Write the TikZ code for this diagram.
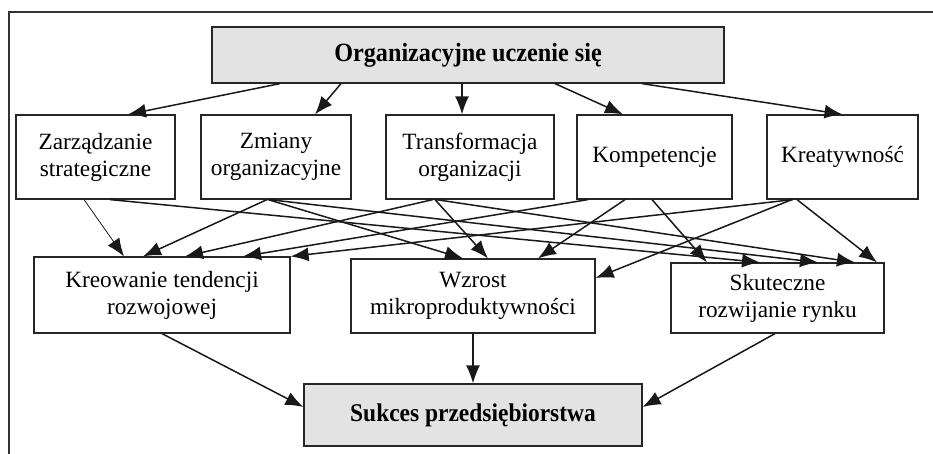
\documentclass[tikz,border=0pt]{standalone}
\usepackage{fontspec}
\setmainfont{Liberation Serif}
\newfontfamily\bfcond[FakeStretch=0.92]{Liberation Serif Bold}
\usetikzlibrary{arrows.meta}
\begin{document}
\begin{tikzpicture}[x=1pt,y=-1pt,
  box/.style={draw=black!85,line width=1.2pt,rectangle,inner sep=0pt,align=center,
    font=\fontsize{23.3}{27}\selectfont},
  gbox/.style={box,fill=black!11,font=\bfcond\fontsize{26.3}{30}\selectfont},
  sbox/.style={box,fill=black!11,font=\bfcond\fontsize{25.5}{30}\selectfont},
  arr/.style={line width=1.5pt,draw=black!90,-{Latex[length=18pt,width=14pt]}},
  thinarr/.style={arr,line width=0.8pt}]
\useasboundingbox (0,0) rectangle (933,454);
\draw[line width=1.1pt,draw=black!80] (9,454) -- (9,12) -- (933,12);

% top
\node[gbox,minimum width=512pt,minimum height=56pt] (top) at (468,55) {Organizacyjne uczenie się};

% row 2
\node[box,minimum width=159pt,minimum height=84pt] (zarz) at (95.5,157) {Zarządzanie\\strategiczne};
\node[box,minimum width=150pt,minimum height=84pt] (zmiany) at (276,157) {Zmiany\\organizacyjne};
\node[box,minimum width=168pt,minimum height=84pt] (trans) at (470,157) {Transformacja\\organizacji};
\node[box,minimum width=155pt,minimum height=84pt] (komp) at (654.5,157) {Kompetencje};
\node[box,minimum width=151pt,minimum height=84pt] (kreat) at (842.5,157) {Kreatywność};

% row 3
\node[box,minimum width=256pt,minimum height=76pt] (kreow) at (162,295) {Kreowanie tendencji\\rozwojowej};
\node[box,minimum width=244pt,minimum height=74pt] (wzrost) at (473,296) {Wzrost\\mikroproduktywności};
\node[box,minimum width=213pt,minimum height=70pt] (skut) at (777.5,298) {Skuteczne\\rozwijanie rynku};

% bottom
\node[sbox,minimum width=338pt,minimum height=62pt] (sukces) at (473,415) {Sukces przedsiębiorstwa};

% top -> row 2
\draw[arr] ([xshift=-188pt]top.south) -- ([xshift=32.5pt]zarz.north);
\draw[arr] ([xshift=-127pt]top.south) -- ([xshift=39pt]zmiany.north);
\draw[arr] ([xshift=-6pt]top.south) -- ([xshift=-8pt]trans.north);
\draw[arr] ([xshift=87pt]top.south) -- ([xshift=-31.5pt]komp.north);
\draw[arr] ([xshift=174pt]top.south) -- (kreat.north);

% row 2 -> row 3
\draw[thinarr] ([xshift=-11.5pt]zarz.south) -- ([xshift=-38pt]kreow.north);
\draw[arr] ([xshift=14.5pt]zarz.south) -- ([xshift=-17.5pt]skut.north);
\draw[arr] ([xshift=-9pt]zmiany.south) -- ([xshift=-19pt]kreow.north);
\draw[arr] ([xshift=-8pt]zmiany.south) -- ([xshift=-10pt]wzrost.north);
\draw[arr] ([xshift=-7pt]zmiany.south) -- ([xshift=40.5pt]skut.north);
\draw[arr] ([xshift=-37pt]trans.south) -- ([xshift=23pt]kreow.north);
\draw[arr] ([xshift=-35pt]trans.south) -- ([xshift=15pt]wzrost.north);
\draw[arr] ([xshift=-34pt]trans.south) -- ([xshift=77.5pt]skut.north);
\draw[arr] ([xshift=-66.5pt]komp.south) -- ([xshift=81pt]kreow.north);
\draw[arr] ([xshift=-29.5pt]komp.south) -- ([xshift=65pt]wzrost.north);
\draw[arr] ([xshift=-2.5pt]komp.south) -- ([xshift=-70.5pt]skut.north);
\draw[arr] ([xshift=-49.5pt]kreat.south) -- (kreow.north east);
\draw[arr] ([xshift=-50.5pt]kreat.south) -- ([yshift=18pt]wzrost.east);
\draw[arr] ([xshift=-45.5pt]kreat.south) -- ([xshift=99.5pt]skut.north);

% row 3 -> bottom
\draw[arr] (kreow.south) -- ([yshift=8pt]sukces.west);
\draw[arr] (wzrost.south) -- (sukces.north);
\draw[arr] ([xshift=-2.5pt]skut.south) -- ([yshift=8pt]sukces.east);
\end{tikzpicture}
\end{document}
